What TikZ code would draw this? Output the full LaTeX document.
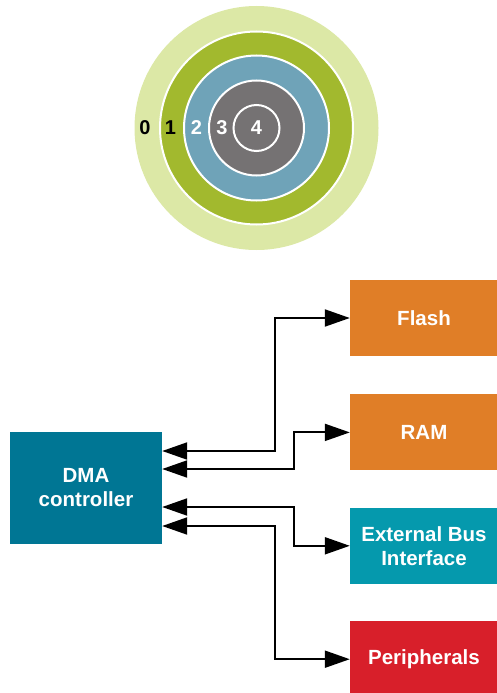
\documentclass[tikz,border=0pt]{standalone}
\usepackage{fontspec}
\setmainfont{Liberation Sans}
\usetikzlibrary{arrows.meta,positioning}
\definecolor{ringzero}{RGB}{220,232,166}
\definecolor{ringone}{RGB}{162,185,46}
\definecolor{ringtwo}{RGB}{111,163,184}
\definecolor{ringthree}{RGB}{117,114,115}
\definecolor{memc}{RGB}{224,126,39}
\definecolor{dmac}{RGB}{0,118,148}
\definecolor{busc}{RGB}{5,153,173}
\definecolor{perc}{RGB}{216,31,42}
\tikzstyle{ring} = [draw=white, line width=2pt]
\tikzstyle{ringlabel} = [font=\fontsize{20}{22}\selectfont\bfseries]
\tikzstyle{blockbox} = [
  rectangle,
  inner sep=0pt,
  minimum width=148pt,
  minimum height=76pt,
  text=white,
  align=center,
  font=\fontsize{20.5}{24}\selectfont\bfseries,
]
\tikzstyle{busline} = [
  line width=2pt,
  {Triangle[length=25pt,width=17pt]}-{Triangle[length=25pt,width=17pt]},
]

\begin{document}
\begin{tikzpicture}[x=1pt,y=-1pt]
      \useasboundingbox (0,0) rectangle (497,693);

      \coordinate (O) at (256.5,128);

      % Rings
      \fill[ringzero] (O) circle(122);
      \draw[ring, fill=ringone] (O) circle(96.5);
      \draw[ring, fill=ringtwo] (O) circle(72.5);
      \draw[ring, fill=ringthree] (O) circle(47.5);
      \draw[ring] (O) circle(23);

      % Ring numbers
      \node[ringlabel] (l0) at (145,128) {0};
      \node[ringlabel] (l1) at (170.5,128) {1};
      \node[ringlabel, text=white] (l2) at (196.5,128) {2};
      \node[ringlabel, text=white] (l3) at (222,128) {3};
      \node[ringlabel, text=white] (l4) at (O) {4};

      % Blocks
      \node[blockbox, fill=dmac, minimum width=152pt, minimum height=112pt] (dma) at (86,488) {DMA\\controller};
      \node[blockbox, fill=memc] (flash) at (424,318) {Flash};
      \node[blockbox, fill=memc, below=38pt of flash] (ram) {RAM};
      \node[blockbox, fill=busc, below=37pt of ram] (ebi) {External Bus\\Interface};
      \node[blockbox, fill=perc, below=37pt of ebi] (periph) {Peripherals};

      % Buses
      \draw[busline] ([yshift=37pt]dma.east) -- ++(113,0) |- (flash.west);
      \draw[busline] ([yshift=19pt]dma.east) -- ++(132,0) |- (ram.west);
      \draw[busline] ([yshift=-19pt]dma.east) -- ++(132,0) |- (ebi.west);
      \draw[busline] ([yshift=-38pt]dma.east) -- ++(113,0) |- (periph.west);
\end{tikzpicture}
\end{document}
